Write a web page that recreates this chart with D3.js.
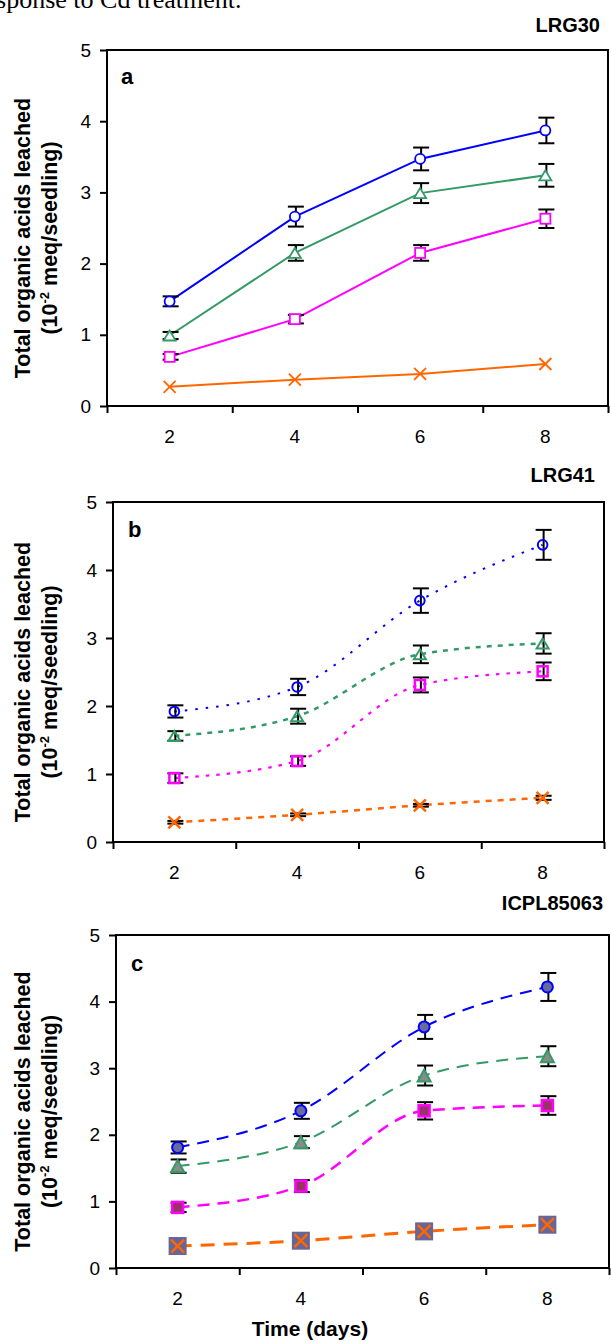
<!DOCTYPE html>
<html>
<head>
<meta charset="utf-8">
<script src="https://cdn.jsdelivr.net/npm/d3@7"></script>
<style>
  body { margin: 0; background: #fff; }
  svg { display: block; }
  text { font-family: "Liberation Sans", Arial, sans-serif; fill: #000; }
</style>
</head>
<body>
<svg id="chart" width="611" height="1342"></svg>
<script>
// ---- data -------------------------------------------------------------
const days = ["2", "4", "6", "8"];
const yTicks = [0, 1, 2, 3, 4, 5];
const cultivars = ["LRG30", "LRG41", "ICPL85063"];
const panelLetters = ["a", "b", "c"];

// LRG30 (10^-2 meq/seedling) and standard errors
const lrg30Circle      = [1.47, 2.66, 3.47, 3.87];
const lrg30CircleErr   = [0.07, 0.14, 0.16, 0.18];
const lrg30Triangle    = [0.99, 2.15, 2.99, 3.24];
const lrg30TriangleErr = [0.05, 0.11, 0.14, 0.16];
const lrg30Square      = [0.69, 1.22, 2.15, 2.63];
const lrg30SquareErr   = [0.04, 0.06, 0.11, 0.13];
const lrg30Cross       = [0.27, 0.37, 0.45, 0.59];
const lrg30CrossErr    = [0, 0, 0, 0];

// LRG41
const lrg41Circle      = [1.92, 2.28, 3.55, 4.37];
const lrg41CircleErr   = [0.09, 0.12, 0.18, 0.22];
const lrg41Triangle    = [1.56, 1.85, 2.76, 2.92];
const lrg41TriangleErr = [0.07, 0.11, 0.13, 0.15];
const lrg41Square      = [0.94, 1.19, 2.31, 2.51];
const lrg41SquareErr   = [0.07, 0.07, 0.11, 0.13];
const lrg41Cross       = [0.29, 0.40, 0.54, 0.65];
const lrg41CrossErr    = [0.02, 0.02, 0.02, 0.03];

// ICPL85063
const icplCircle       = [1.81, 2.36, 3.62, 4.22];
const icplCircleErr    = [0.09, 0.12, 0.18, 0.21];
const icplTriangle     = [1.53, 1.89, 2.89, 3.18];
const icplTriangleErr  = [0.10, 0.09, 0.15, 0.15];
const icplSquare       = [0.91, 1.23, 2.36, 2.44];
const icplSquareErr    = [0.07, 0.09, 0.13, 0.14];
const icplCross        = [0.33, 0.41, 0.55, 0.65];
const icplCrossErr     = [0, 0, 0, 0];

const seriesShapes = ["circle", "triangle", "square", "cross"];
const seriesColors = ["#0000ff", "#339966", "#ff00ff", "#ff6600"];

const panelValues = [
  [lrg30Circle, lrg30Triangle, lrg30Square, lrg30Cross],
  [lrg41Circle, lrg41Triangle, lrg41Square, lrg41Cross],
  [icplCircle, icplTriangle, icplSquare, icplCross]
];
const panelErrors = [
  [lrg30CircleErr, lrg30TriangleErr, lrg30SquareErr, lrg30CrossErr],
  [lrg41CircleErr, lrg41TriangleErr, lrg41SquareErr, lrg41CrossErr],
  [icplCircleErr, icplTriangleErr, icplSquareErr, icplCrossErr]
];

// ---- layout -----------------------------------------------------------
const layout = [
  { left: 107, right: 608, top: 50,  bottom: 406,  titleX: 600, titleY: 32,  letterX: 121, letterY: 84 },
  { left: 113, right: 604, top: 502, bottom: 842,  titleX: 595, titleY: 482, letterX: 128, letterY: 537 },
  { left: 116, right: 609, top: 935, bottom: 1268, titleX: 603, titleY: 910, letterX: 131, letterY: 971 }
];

// line / marker styling per panel
const lineStyles = [
  { curve: d3.curveLinear, dash: [null, null, null, null], width: [2, 2, 2, 2] },
  { curve: d3.curveMonotoneX, dash: ["2.5,8", "5,6", "3.5,7", "6,6"], width: [2, 2.5, 2.2, 2.5] },
  { curve: d3.curveMonotoneX, dash: ["12,8", "12,8", "12,8", "14,9"], width: [2, 2, 2.5, 3] }
];

const svg = d3.select("#chart");

// sentence running above the first panel (top edge of the page)
svg.append("text")
  .attr("x", -15.5).attr("y", 8)
  .style("font-family", "'Liberation Serif', 'Times New Roman', serif")
  .style("font-size", "26px")
  .text("esponse to Cd treatment.");

function trianglePath(w, h) {
  return `M0,${-h / 2}L${w / 2},${h / 2}L${-w / 2},${h / 2}Z`;
}
function crossPath(a) {
  return `M${-a},${-a}L${a},${a}M${-a},${a}L${a},${-a}`;
}

function drawMarker(sel, shape, color, panelIdx) {
  if (panelIdx === 0) {
    // open markers with white interior
    const sw = 1.8;
    if (shape === "circle") sel.append("circle").attr("r", 5).attr("fill", "#fff").attr("stroke", color).attr("stroke-width", sw);
    if (shape === "triangle") sel.append("path").attr("d", trianglePath(12, 10)).attr("fill", "#fff").attr("stroke", color).attr("stroke-width", sw);
    if (shape === "square") sel.append("rect").attr("x", -5).attr("y", -5).attr("width", 10).attr("height", 10).attr("fill", "#fff").attr("stroke", color).attr("stroke-width", sw);
    if (shape === "cross") sel.append("path").attr("d", crossPath(6)).attr("fill", "none").attr("stroke", color).attr("stroke-width", sw);
  } else if (panelIdx === 1) {
    // open markers, transparent interior
    if (shape === "circle") sel.append("circle").attr("r", 4.8).attr("fill", "none").attr("stroke", color).attr("stroke-width", 2);
    if (shape === "triangle") sel.append("path").attr("d", trianglePath(12, 10)).attr("fill", "none").attr("stroke", color).attr("stroke-width", 2);
    if (shape === "square") sel.append("rect").attr("x", -5).attr("y", -5).attr("width", 10).attr("height", 10).attr("fill", "none").attr("stroke", color).attr("stroke-width", 2.5);
    if (shape === "cross") sel.append("path").attr("d", crossPath(6)).attr("fill", "none").attr("stroke", color).attr("stroke-width", 2.5);
  } else {
    // filled markers
    if (shape === "circle") sel.append("circle").attr("r", 5.5).attr("fill", "#6b6b9b").attr("stroke", color).attr("stroke-width", 2);
    if (shape === "triangle") sel.append("path").attr("d", trianglePath(13, 12)).attr("fill", "#8a8a8a").attr("stroke", color).attr("stroke-width", 2);
    if (shape === "square") sel.append("rect").attr("x", -5.5).attr("y", -5.5).attr("width", 11).attr("height", 11).attr("fill", "#993366").attr("stroke", color).attr("stroke-width", 2.5);
    if (shape === "cross") {
      sel.append("rect").attr("x", -9).attr("y", -9).attr("width", 18).attr("height", 18).attr("fill", "#666699");
      sel.append("path").attr("d", crossPath(6.5)).attr("fill", "none").attr("stroke", color).attr("stroke-width", 2.5);
    }
  }
}

layout.forEach((L, p) => {
  const g = svg.append("g");
  const x = d3.scaleBand().domain(days).range([L.left, L.right]);
  const xEdge = d3.scaleLinear().domain([0, days.length]).range([L.left, L.right]);
  const y = d3.scaleLinear().domain([0, 5]).range([L.bottom, L.top]);
  const cx = d => x(d) + x.bandwidth() / 2;

  // cultivar heading and panel letter
  g.append("text").attr("x", L.titleX).attr("y", L.titleY)
    .attr("text-anchor", "end").style("font-size", "20px").style("font-weight", "bold")
    .text(cultivars[p]);
  g.append("text").attr("x", L.letterX).attr("y", L.letterY)
    .style("font-size", "22px").style("font-weight", "bold")
    .text(panelLetters[p]);

  // y axis
  const yAxis = g.append("g").attr("transform", `translate(${L.left},0)`)
    .call(d3.axisLeft(y).tickValues(yTicks).tickSize(7).tickPadding(9).tickFormat(d3.format("d")));
  yAxis.select(".domain").remove();
  yAxis.selectAll("line").attr("stroke-width", 2);
  yAxis.selectAll("text").style("font-size", "19px").attr("font-family", null);

  // x axis: tick marks on category edges, labels on category centres
  const xTickAxis = g.append("g").attr("transform", `translate(0,${L.bottom})`)
    .call(d3.axisBottom(xEdge).tickValues(d3.range(days.length + 1)).tickSize(7).tickFormat(""));
  xTickAxis.select(".domain").remove();
  xTickAxis.selectAll("line").attr("stroke-width", 2);
  const xLabelAxis = g.append("g").attr("transform", `translate(0,${L.bottom})`)
    .call(d3.axisBottom(x).tickSize(0).tickPadding(23.5));
  xLabelAxis.select(".domain").remove();
  xLabelAxis.selectAll("text").style("font-size", "19px").attr("font-family", null);

  // plot frame
  g.append("rect").attr("x", L.left).attr("y", L.top)
    .attr("width", L.right - L.left).attr("height", L.bottom - L.top)
    .attr("fill", "none").attr("stroke", "#000").attr("stroke-width", 2);

  // y axis title
  const cy = (L.top + L.bottom) / 2 + 10;
  g.append("text").attr("transform", `translate(30,${cy}) rotate(-90)`)
    .attr("text-anchor", "middle").style("font-size", "21.5px").style("font-weight", "bold")
    .text("Total organic acids leached");
  const t2 = g.append("text").attr("transform", `translate(57,${cy}) rotate(-90)`)
    .attr("text-anchor", "middle").style("font-size", "21.5px").style("font-weight", "bold");
  t2.append("tspan").text("(10");
  t2.append("tspan").attr("dy", -8).style("font-size", "13px").text("-2");
  t2.append("tspan").attr("dy", 8).text(" meq/seedling)");

  const values = panelValues[p];
  const errors = panelErrors[p];
  const st = lineStyles[p];
  const lineGen = d3.line().x((d, i) => cx(days[i])).y(d => y(d)).curve(st.curve);

  values.forEach((vals, s) => {
    const color = seriesColors[s];
    const errs = errors[s];

    // series line
    g.append("path").datum(vals).attr("d", lineGen)
      .attr("fill", "none").attr("stroke", color)
      .attr("stroke-width", st.width[s])
      .attr("stroke-dasharray", st.dash[s]);

    // error bars
    const eb = g.append("g").attr("stroke", "#000").attr("stroke-width", 2);
    vals.forEach((v, i) => {
      const e = errs[i];
      if (!e) return;
      const xc = cx(days[i]) + 1;
      eb.append("line").attr("x1", xc).attr("x2", xc).attr("y1", y(v - e)).attr("y2", y(v + e));
      eb.append("line").attr("x1", xc - 8).attr("x2", xc + 8).attr("y1", y(v - e)).attr("y2", y(v - e));
      eb.append("line").attr("x1", xc - 8).attr("x2", xc + 8).attr("y1", y(v + e)).attr("y2", y(v + e));
    });

    // markers
    vals.forEach((v, i) => {
      const m = g.append("g").attr("transform", `translate(${cx(days[i])},${y(v)})`);
      drawMarker(m, seriesShapes[s], color, p);
    });
  });
});

// shared x axis title
svg.append("text").attr("x", 310).attr("y", 1336)
  .attr("text-anchor", "middle").style("font-size", "21px").style("font-weight", "bold")
  .text("Time (days)");
</script>
</body>
</html>
